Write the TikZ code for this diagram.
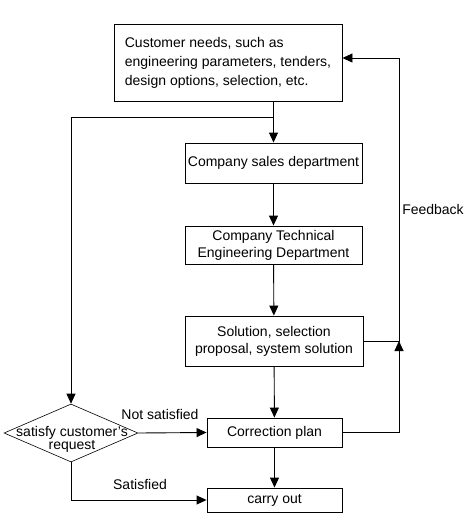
\documentclass[tikz,border=0pt]{standalone}
\usepackage{fontspec}
\setmainfont{Liberation Sans}
\usetikzlibrary{arrows.meta,shapes.geometric}
\begin{document}
\begin{tikzpicture}[x=1pt,y=-1pt,>={Triangle[length=10pt,width=9pt]},line width=0.9pt,
	box/.style={draw,rectangle,inner sep=0pt,align=center,
		font=\fontsize{14}{17}\selectfont},
	decision/.style={draw,diamond,inner sep=0pt,line width=0.6pt}]
\useasboundingbox (0,0) rectangle (465,531);
\node[box,minimum width=228,minimum height=77,align=left,
	font=\fontsize{14}{19}\selectfont] (need) at (228,62.5)
	{Customer needs, such as\\engineering parameters, tenders,\\design options, selection, etc.};
\node[box,minimum width=177,minimum height=40] (sales) at (273.5,163) {Company sales department};
\node[box,minimum width=177,minimum height=38] (tech) at (273.5,245) {Company Technical\\Engineering Department};
\node[box,minimum width=178,minimum height=50] (sol) at (274,341) {Solution, selection\\proposal, system solution};
\node[box,minimum width=135,minimum height=29] (corr) at (274.5,432.5) {Correction plan};
\node[box,minimum width=135,minimum height=24] (carry) at (274.5,500) {carry out};
\node[decision,minimum width=134,minimum height=58] (chk) at (71,433) {};
\node[align=center,font=\fontsize{14}{13}\selectfont] (chktxt) at (72,439) {satisfy customer's\\request};
\coordinate (split) at (273.5,117);
\coordinate (fbtop) at (399,58);
\coordinate (fbmid) at (399,341);
\draw[->] (need.south -| sales.north) -- (sales.north);
\draw[->] (split) -| (chk.north);
\draw[->] (sales) -- (tech);
\draw[->] (tech) -- (sol);
\draw[->] (sol) -- (corr);
\draw[->] (corr) -- (carry);
\draw[->] (chk.east) -- (corr.west);
\draw[->] (chk.south) |- (carry.west);
\draw[->] (corr.east) -| (fbmid);
\draw[->] (sol.east) -- (fbmid) -- (fbtop) -- (need.east |- fbtop);
\node[font=\fontsize{14}{16}\selectfont] (notok) at (160,414) {Not satisfied};
\node[font=\fontsize{14}{16}\selectfont] (ok) at (140,484) {Satisfied};
\node[font=\fontsize{14}{16}\selectfont] (fb) at (433,209) {Feedback};
\end{tikzpicture}
\end{document}
